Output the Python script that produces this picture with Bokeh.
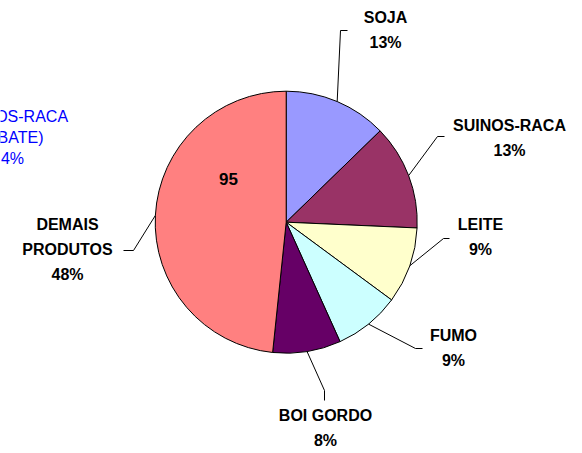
import math
from bokeh.plotting import figure
from bokeh.models import Range1d, ColumnDataSource
from bokeh.core.properties import value
from bokeh.embed import file_html
from bokeh.resources import INLINE

# ---- data ----
categories = ["SOJA", "SUINOS-RACA", "LEITE", "FUMO", "BOI GORDO", "DEMAIS PRODUTOS"]
values = [25, 25.5, 18.5, 16, 16.5, 95]
pct_labels = ["13%", "13%", "9%", "9%", "8%", "48%"]
label_lines = [["SOJA"], ["SUINOS-RACA"], ["LEITE"], ["FUMO"], ["BOI GORDO"], ["DEMAIS", "PRODUTOS"]]
inner_value_label = "95"
extra_label_lines = ["SUINOS-RACA", "(ABATE)", "4%"]
colors = ["#9999FF", "#993366", "#FFFFCC", "#CCFFFF", "#660066", "#FF8080"]

# ---- layout (image pixel coordinates, y downwards) ----
W, H = 582, 453
cx, cy_img, R = 285.7, 221.7, 131
label_pos = [(385, 16.5), (509, 125), (480, 224), (453, 334.5), (325, 415), (67, 224)]
elbows = [((340, 30), (347, 30)), ((437, 136), (444, 136)), ((443, 238), (449, 238)),
          ((415, 348), (422, 348)), ((324, 390), (324, 400)), ((133, 250), (123, 250))]
inner_pos = (228, 178)
extra_pos = (12, 116)
line_gap = 25


def fy(y):
    return H - y


cy = fy(cy_img)

p = figure(width=W, height=H, output_backend="svg", toolbar_location=None,
           x_range=Range1d(0, W), y_range=Range1d(0, H), min_border=0)
p.axis.visible = False
p.grid.visible = False
p.outline_line_color = None
p.background_fill_color = "white"
p.border_fill_color = "white"

total = float(sum(values))
starts, ends, mids = [], [], []
cum = 0.0
for v in values:
    f0 = cum / total
    cum += v
    f1 = cum / total
    starts.append(math.pi / 2 - 2 * math.pi * f0)
    ends.append(math.pi / 2 - 2 * math.pi * f1)
    mids.append(math.pi / 2 - 2 * math.pi * (f0 + f1) / 2)

src = ColumnDataSource(dict(cat=categories, val=values, start=starts, end=ends, color=colors))
p.wedge(x=cx, y=cy, radius=R, start_angle="start", end_angle="end", direction="clock",
        fill_color="color", line_color="black", line_width=1, source=src)

# leader lines
xs, ys = [], []
for m, (e1, e2) in zip(mids, elbows):
    sx = cx + R * math.cos(m)
    sy = cy + R * math.sin(m)
    xs.append([sx, e1[0], e2[0]])
    ys.append([sy, fy(e1[1]), fy(e2[1])])
p.multi_line(xs=xs, ys=ys, line_color="black", line_width=1)

# labels
tx, ty, tt = [], [], []
for lines, pct, (lx, ly) in zip(label_lines, pct_labels, label_pos):
    for i, t in enumerate(lines + [pct]):
        tx.append(lx)
        ty.append(fy(ly + i * line_gap))
        tt.append(t)
p.text(x=tx, y=ty, text=tt, text_font=value("Liberation Sans"), text_font_style="bold",
       text_font_size="16px", text_align="center", text_baseline="middle", text_color="black")

p.text(x=[inner_pos[0]], y=[fy(inner_pos[1])], text=[inner_value_label],
       text_font=value("Liberation Sans"), text_font_style="bold", text_font_size="17px",
       text_align="center", text_baseline="middle", text_color="black")

ex, ey = [], []
for i, t in enumerate(extra_label_lines):
    ex.append(extra_pos[0])
    ey.append(fy(extra_pos[1] + i * 21))
p.text(x=ex, y=ey, text=extra_label_lines, text_font=value("Liberation Sans"),
       text_font_size="16px", text_align="center", text_baseline="middle", text_color="#0000FF")

open("out.html", "w").write(file_html(p, INLINE))
